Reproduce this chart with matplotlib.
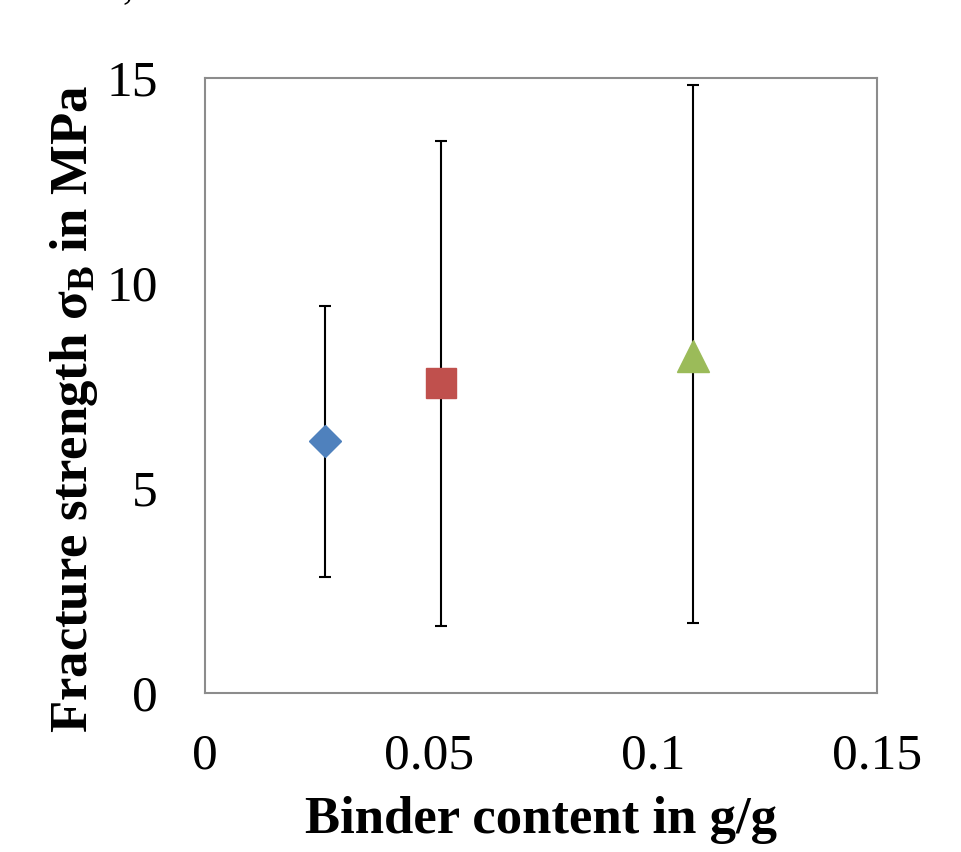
import numpy as np
import matplotlib.pyplot as plt

plt.rcParams['font.family'] = ['Liberation Serif', 'DejaVu Serif']
plt.rcParams['mathtext.fontset'] = 'custom'
plt.rcParams['mathtext.rm'] = 'Liberation Serif'
plt.rcParams['mathtext.bf'] = 'Liberation Serif:bold'

# data
binder = [0.0268, 0.0527, 0.109]
strength = [6.15, 7.56, 8.22]
err_low = [2.83, 1.63, 1.71]
err_high = [9.44, 13.46, 14.83]
markers = ['D', 's', '^']
colors = ['#4f81bd', '#c0504d', '#9bbb59']
msizes = [16, 22, 23]

fig = plt.figure(figsize=(9.61, 8.52), dpi=100)
ax = fig.add_axes([0.2133, 0.1866, 0.6993, 0.7219])

for x, y, lo, hi, m, c, s in zip(binder, strength, err_low, err_high, markers, colors, msizes):
    ax.errorbar(x, y, yerr=[[y - lo], [hi - y]], fmt='none', ecolor='black',
                elinewidth=1.5, capsize=4.5, capthick=1.5, zorder=2)
    ax.plot(x, y, marker=m, color=c, markersize=s, linestyle='none', zorder=3)

ax.set_xlim(0, 0.15)
ax.set_ylim(0, 15)
ax.set_xticks([0, 0.05, 0.1, 0.15])
ax.set_xticklabels(['0', '0.05', '0.1', '0.15'])
ax.set_yticks([0, 5, 10, 15])
ax.tick_params(length=0, labelsize=37)
ax.tick_params(axis='x', pad=29)
ax.tick_params(axis='y', pad=34)
for sp in ax.spines.values():
    sp.set_color('#8c8c8c')
    sp.set_linewidth(1.5)

ax.set_xlabel('Binder content in g/g', fontsize=38, fontweight='bold', labelpad=12)
ax.set_ylabel(r'Fracture strength $\mathbf{\sigma_B}$ in MPa', fontsize=38,
              fontweight='bold')
ax.yaxis.set_label_coords(-0.156, 0.462)

# clipped fragment of text above the chart
fig.text(0.133, 1.0 + 3 / 852, ',', fontsize=30, ha='center', va='baseline')

fig.savefig('out.png', dpi=100)
